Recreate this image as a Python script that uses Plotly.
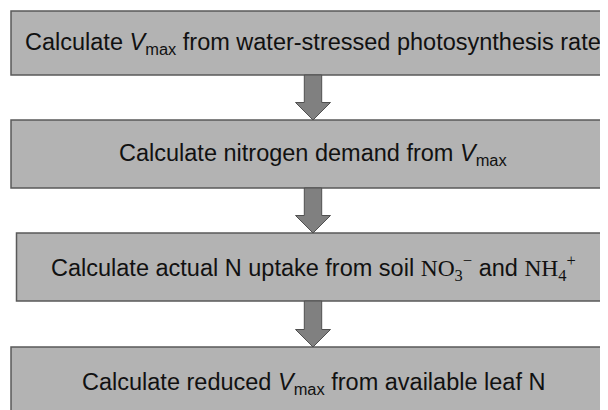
import plotly.graph_objects as go

# Flowchart content
steps = [
    "Calculate <i>V</i><sub>max</sub> from water-stressed photosynthesis rate",
    "Calculate nitrogen demand from <i>V</i><sub>max</sub>",
    "Calculate actual N uptake from soil "
    "<span style=\"font-family:'Liberation Serif'\">NO<sub>3</sub><sup>−</sup></span> and "
    "<span style=\"font-family:'Liberation Serif'\">NH<sub>4</sub><sup>+</sup></span>",
    "Calculate reduced <i>V</i><sub>max</sub> from available leaf N",
]

# layout geometry (page pixels)
box_left = [11, 11, 16.5, 11]
box_right = [615, 615, 609.5, 615]
box_top = [11, 120, 233, 347]
box_bottom = [75, 188, 301, 440]
text_y = [43.5, 154.5, 267.5, 383]
cx = 313

W, H = 608, 410
OFF = 8  # page body margin offset
fig = go.Figure()

for i, label in enumerate(steps):
    fig.add_shape(type="rect", x0=box_left[i], x1=box_right[i], y0=box_top[i], y1=box_bottom[i],
                  xref="x", yref="y", fillcolor="#b3b3b3",
                  line=dict(color="#5a5a5a", width=1.5), layer="below")
    fig.add_annotation(x=cx, y=text_y[i], xref="x", yref="y", text=label, showarrow=False,
                       font=dict(family="Liberation Sans, Arial", size=23.5, color="#111111"),
                       xanchor="center", yanchor="middle")

# Arrows between boxes
shaft_half = 8.7
head_half = 17.5
head_len = 17.5
for i in range(len(steps) - 1):
    y0 = box_bottom[i]
    y1 = box_top[i + 1]
    yh = y1 - head_len
    path = (f"M {cx - shaft_half},{y0} L {cx + shaft_half},{y0} L {cx + shaft_half},{yh} "
            f"L {cx + head_half},{yh} L {cx},{y1} L {cx - head_half},{yh} "
            f"L {cx - shaft_half},{yh} Z")
    fig.add_shape(type="path", path=path, xref="x", yref="y", fillcolor="#808080",
                  line=dict(color="#505050", width=1))

fig.update_xaxes(range=[OFF, W + OFF], visible=False, fixedrange=True)
fig.update_yaxes(range=[H + OFF, OFF], visible=False, fixedrange=True)
fig.update_layout(width=W, height=H, margin=dict(l=0, r=0, t=0, b=0),
                  plot_bgcolor="white", paper_bgcolor="white", showlegend=False)
fig.write_html("out.html")
